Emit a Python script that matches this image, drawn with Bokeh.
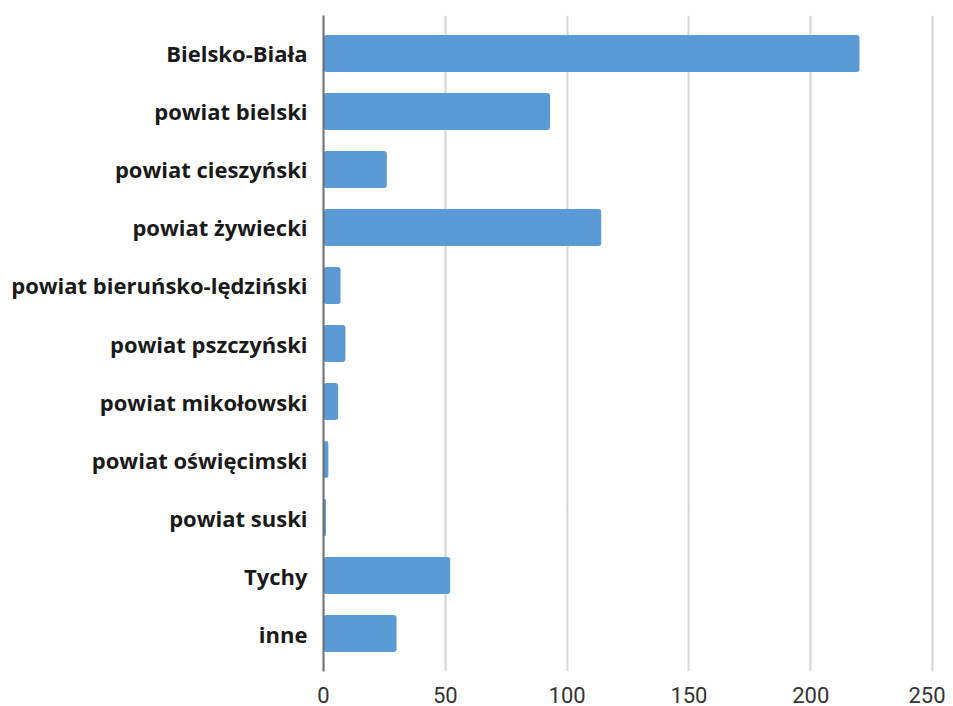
from bokeh.plotting import figure
from bokeh.models import FactorRange, Range1d, FixedTicker
from bokeh.embed import file_html
from bokeh.resources import INLINE

categories = ["Bielsko-Biała", "powiat bielski", "powiat cieszyński", "powiat żywiecki",
              "powiat bieruńsko-lędziński", "powiat pszczyński", "powiat mikołowski",
              "powiat oświęcimski", "powiat suski", "Tychy", "inne"]
values = [220, 93, 26, 114, 7, 9, 6, 2, 1, 52, 30]
x_ticks = [0, 50, 100, 150, 200, 250]

p = figure(width=945, height=706, output_backend="svg", toolbar_location=None,
           y_range=FactorRange(*list(reversed(categories)), range_padding=0.155,
                               range_padding_units="absolute"),
           x_range=Range1d(0, 255.3),
           min_border_left=323, min_border_top=15, min_border_right=0, min_border_bottom=35)
p.outline_line_color = None

p.hbar(y=categories, right=values, left=0, height=0.64, color="#5b9bd5",
       line_color=None, border_radius=3)

p.xaxis.ticker = FixedTicker(ticks=x_ticks)
p.xaxis.axis_line_color = None
p.xaxis.major_tick_line_color = None
p.xaxis.minor_tick_line_color = None
p.xaxis.major_label_text_font = "Roboto"
p.xaxis.major_label_text_font_size = "22px"
p.xaxis.major_label_text_color = "#333333"
p.xaxis.major_label_standoff = 9

p.yaxis.axis_line_color = "#6b6b6b"
p.yaxis.axis_line_width = 2
p.yaxis.major_tick_line_color = None
p.yaxis.minor_tick_line_color = None
p.yaxis.major_label_text_font = "Open Sans"
p.yaxis.major_label_text_font_style = "bold"
p.yaxis.major_label_text_font_size = "22px"
p.yaxis.major_label_text_color = "#1a1a1a"
p.yaxis.major_label_standoff = 10

p.xgrid.grid_line_color = "#d4d4d4"
p.xgrid.grid_line_width = 2
p.ygrid.grid_line_color = None

open("out.html", "w").write(file_html(p, INLINE))
